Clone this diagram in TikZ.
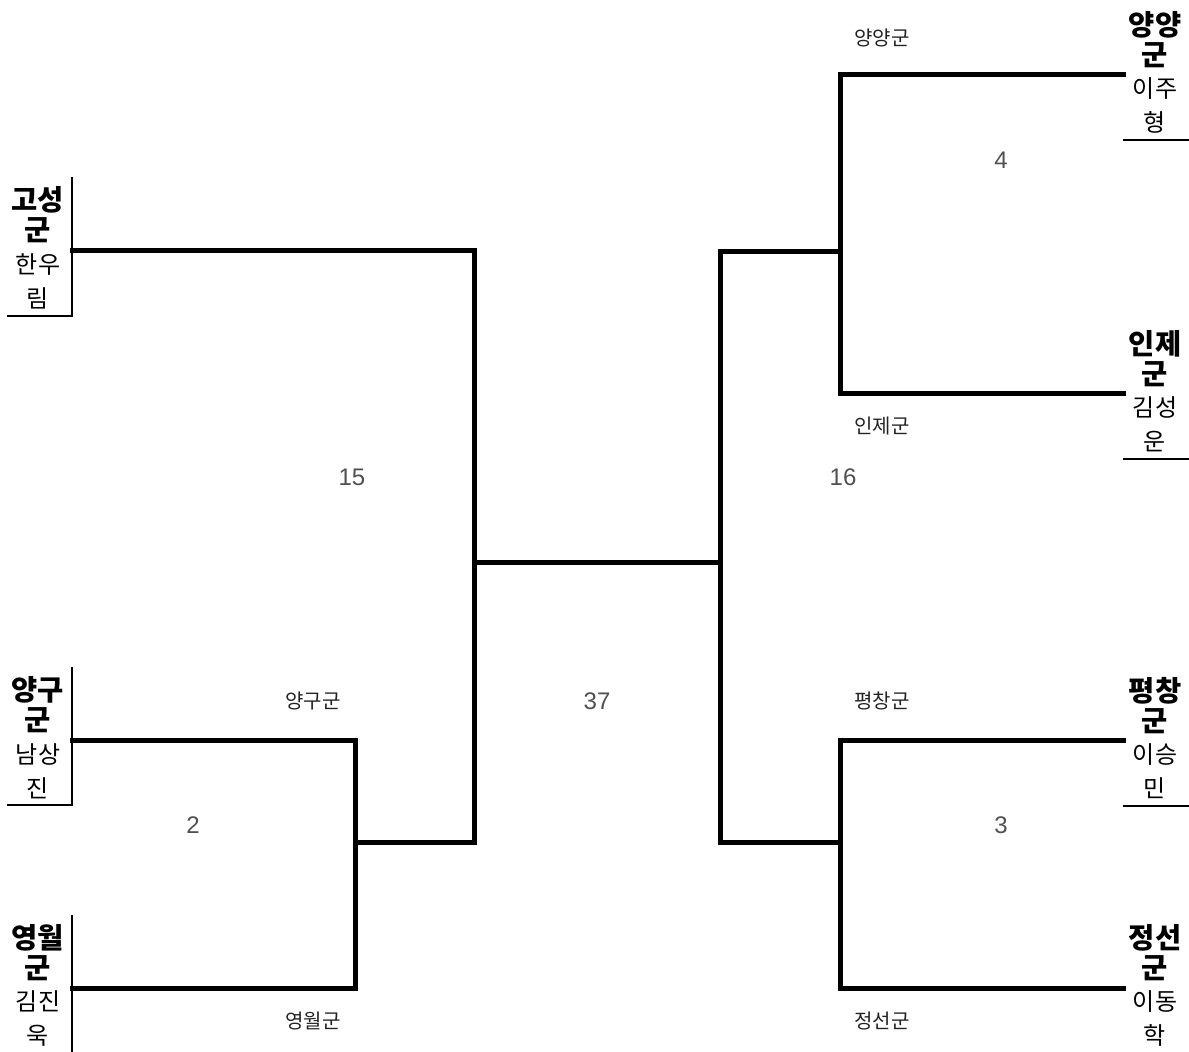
\documentclass[tikz,border=0pt]{standalone}
\usepackage{fontspec}
\setmainfont{Liberation Sans}
\newfontfamily\kr{Noto Sans CJK KR}
\definecolor{scoregrey}{HTML}{505050}
\definecolor{labelgrey}{HTML}{222222}
\tikzset{
  bracket/.style={line width=5pt, line join=miter, line cap=rect},
  boxline/.style={line width=2pt},
  teamname/.style={inner sep=0pt, align=center, font=\kr\bfseries\fontsize{28.5}{30}\selectfont},
  playername/.style={inner sep=0pt, align=center, font=\kr\fontsize{24}{34}\selectfont},
  smalllabel/.style={inner sep=0pt, text=labelgrey, font=\kr\fontsize{20}{22}\selectfont},
  score/.style={inner sep=0pt, text=scoregrey, font=\fontsize{24}{26}\selectfont}
}
\begin{document}
\begin{tikzpicture}[x=1pt,y=-1pt]
\useasboundingbox (0,0) rectangle (1189,1052);
% left entry points
\coordinate (L1) at (72,250);
\coordinate (L2) at (72,740);
\coordinate (L3) at (72,988);
\coordinate (A1) at (474,250);
\coordinate (B2) at (355,740);
\coordinate (B3) at (355,988);
\coordinate (B23) at (355,842);
\coordinate (A23) at (474,842);
\coordinate (F1) at (474,562);
\coordinate (F2) at (720,562);
% right entry points
\coordinate (R1) at (1123,74);
\coordinate (R2) at (1123,393);
\coordinate (R3) at (1123,740);
\coordinate (R4) at (1123,988);
\coordinate (C1) at (840,74);
\coordinate (C2) at (840,393);
\coordinate (C12) at (840,251);
\coordinate (D12) at (720,251);
\coordinate (C3) at (840,740);
\coordinate (C4) at (840,988);
\coordinate (C34) at (840,842);
\coordinate (D34) at (720,842);
% box corners
\coordinate (K1t) at (72,177); \coordinate (K1b) at (72,316); \coordinate (K1u) at (7,316);
\coordinate (K2t) at (72,667); \coordinate (K2b) at (72,805); \coordinate (K2u) at (7,805);
\coordinate (K3t) at (72,915); \coordinate (K3b) at (72,1052);
\coordinate (Q1a) at (1123,140); \coordinate (Q1b) at (1189,140);
\coordinate (Q2a) at (1123,459); \coordinate (Q2b) at (1189,459);
\coordinate (Q3a) at (1123,806); \coordinate (Q3b) at (1189,806);

% bracket lines
\draw[bracket] (L2) -- (B2) -- (B3) -- (L3);
\draw[bracket] (B23) -- (A23);
\draw[bracket] (L1) -- (A1) -- (A23);
\draw[bracket] (F1) -- (F2);
\draw[bracket] (R1) -- (C1) -- (C2) -- (R2);
\draw[bracket] (R3) -- (C3) -- (C4) -- (R4);
\draw[bracket] (C12) -- (D12) -- (D34) -- (C34);

% entry boxes
\draw[boxline] (K1t) -- (K1b) -- (K1u);
\draw[boxline] (K2t) -- (K2b) -- (K2u);
\draw[boxline] (K3t) -- (K3b);
\draw[boxline] (Q1a) -- (Q1b);
\draw[boxline] (Q2a) -- (Q2b);
\draw[boxline] (Q3a) -- (Q3b);

% team and player names, left
\node[teamname] (t1) at (38,215) {고성\\군};
\node[playername] (p1) at (38,281) {한우\\림};
\node[teamname] (t2) at (38,705) {양구\\군};
\node[playername] (p2) at (38,771) {남상\\진};
\node[teamname] (t3) at (38,953) {영월\\군};
\node[playername] (p3) at (38,1019) {김진\\욱};
% right
\node[teamname] (t4) at (1155,40) {양양\\군};
\node[playername] (p4) at (1155,105) {이주\\형};
\node[teamname] (t5) at (1155,359) {인제\\군};
\node[playername] (p5) at (1155,424) {김성\\운};
\node[teamname] (t6) at (1155,706) {평창\\군};
\node[playername] (p6) at (1155,771) {이승\\민};
\node[teamname] (t7) at (1155,953) {정선\\군};
\node[playername] (p7) at (1155,1019) {이동\\학};

% winner labels
\node[smalllabel] (w1) at (882,38) {양양군};
\node[smalllabel] (w2) at (882,426) {인제군};
\node[smalllabel] (w3) at (882,701) {평창군};
\node[smalllabel] (w4) at (882,1021) {정선군};
\node[smalllabel] (w5) at (313,701) {양구군};
\node[smalllabel] (w6) at (313,1021) {영월군};

% scores
\node[score] (s1) at (352,477) {15};
\node[score] (s2) at (843,477) {16};
\node[score] (s3) at (597,701) {37};
\node[score] (s4) at (193,825) {2};
\node[score] (s5) at (1001,160) {4};
\node[score] (s6) at (1001,825) {3};
\end{tikzpicture}
\end{document}
